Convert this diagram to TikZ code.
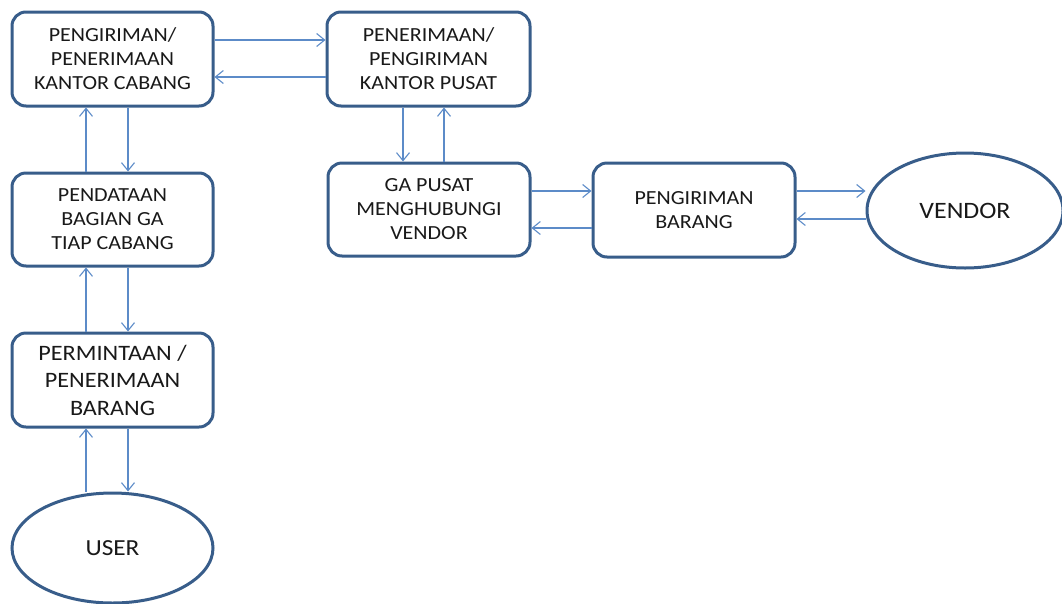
\documentclass[tikz,border=0pt]{standalone}
\usepackage{fontspec}
\setmainfont{Carlito}[FakeStretch=1.1]
\usetikzlibrary{arrows.meta,shapes.geometric}
\definecolor{boxline}{RGB}{56,93,138}
\definecolor{linkline}{RGB}{92,139,200}
\definecolor{inktext}{RGB}{25,25,25}
\tikzset{
  stepbox/.style={draw=boxline, line width=3pt, rounded corners=14pt, fill=white,
    minimum width=201pt, minimum height=94pt, align=center, text=inktext, inner sep=0pt,
    font=\fontsize{20}{24}\selectfont},
  endpoint/.style={ellipse, draw=boxline, line width=3pt, fill=white, inner sep=0pt,
    text=inktext},
  conn/.style={draw=linkline, line width=1.2pt,
    -{Straight Barb[length=8pt,width=13pt,line width=1.1pt]}}
}
\begin{document}
\begin{tikzpicture}[x=1pt,y=-1pt]
\useasboundingbox (0,0) rectangle (1062,603);

% process boxes
\node[stepbox] (kc) at (112.5,59) {PENGIRIMAN/\\PENERIMAAN\\KANTOR CABANG};
\node[stepbox, minimum width=203pt] (kp) at (428.5,59) {PENERIMAAN/\\PENGIRIMAN\\KANTOR PUSAT};
\node[stepbox, minimum width=202pt, minimum height=93pt] (ga) at (429,209.5) {GA PUSAT\\MENGHUBUNGI\\VENDOR};
\node[stepbox, minimum height=93pt] (pd) at (112.5,219.5) {PENDATAAN\\BAGIAN GA\\TIAP CABANG};
\node[stepbox, minimum width=202pt] (pb) at (694,210) {PENGIRIMAN\\BARANG};
\node[stepbox, font=\fontsize{22}{27.5}\selectfont] (pm) at (112.5,380) {PERMINTAAN /\\PENERIMAAN\\BARANG};

% end points
\node[endpoint, minimum width=196pt, minimum height=115pt, font=\fontsize{23.5}{28}\selectfont] (vd) at (965,210.5) {VENDOR};
\node[endpoint, minimum width=201pt, minimum height=110pt, font=\fontsize{23}{28}\selectfont] (us) at (112.5,548) {USER};

% head office <-> branch office
\draw[conn] (kc.east |- 0,40) -- (kp.west |- 0,40);
\draw[conn] (kp.west |- 0,77) -- (kc.east |- 0,77);

% head office <-> GA head office
\draw[conn] (kp.south -| 403,0) -- (ga.north -| 403,0);
\draw[conn] (ga.north -| 444,0) -- (kp.south -| 444,0);

% GA head office <-> shipping
\draw[conn] (ga.east |- 0,191) -- (pb.west |- 0,191);
\draw[conn] (pb.west |- 0,228) -- (ga.east |- 0,228);

% shipping <-> vendor
\draw[conn] (pb.east |- 0,191) -- (vd.west |- 0,191);
\draw[conn] (vd.west |- 0,219) -- (pb.east |- 0,219);

% branch chain
\draw[conn] (pd.north -| 86,0) -- (kc.south -| 86,0);
\draw[conn] (kc.south -| 128,0) -- (pd.north -| 128,0);
\draw[conn] (pm.north -| 86,0) -- (pd.south -| 86,0);
\draw[conn] (pd.south -| 128,0) -- (pm.north -| 128,0);
\draw[conn] (us.north -| 86,0) -- (pm.south -| 86,0);
\draw[conn] (pm.south -| 128,0) -- (us.north -| 128,0);
\end{tikzpicture}
\end{document}
